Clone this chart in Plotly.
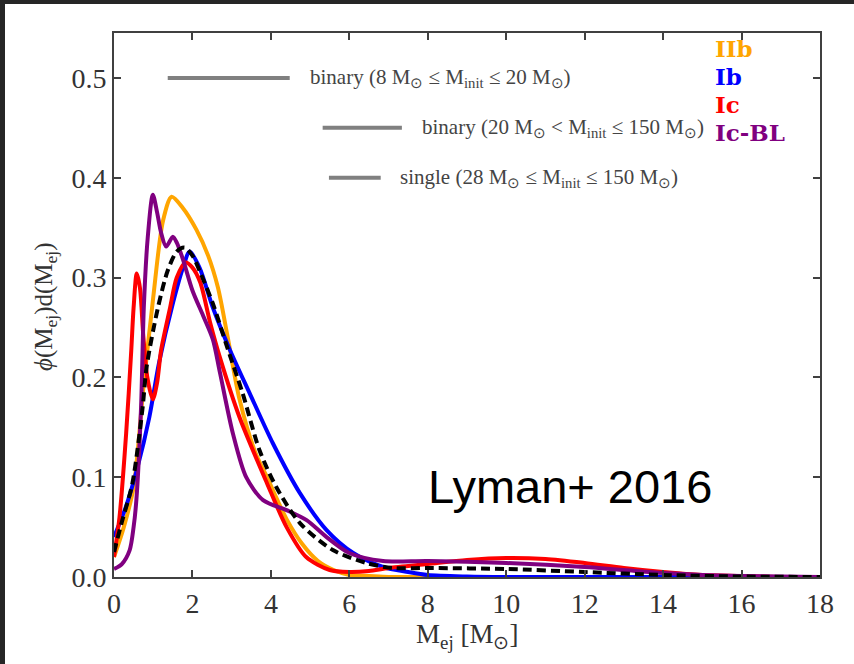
import plotly.graph_objects as go

# Ejecta-mass distributions per SN subtype
x_iib = [0, 0.25, 0.5, 0.75, 1.0, 1.25, 1.47, 1.75, 2.1, 2.4, 2.65, 2.9, 3.2, 3.6, 3.9, 4.4, 4.8, 5.2, 5.6, 6.0, 6.5, 7.0, 8, 10, 12, 14, 16, 18]
y_iib = [0.02, 0.05, 0.09, 0.19, 0.28, 0.357, 0.381, 0.370, 0.348, 0.322, 0.29, 0.24, 0.178, 0.125, 0.1, 0.058, 0.033, 0.016, 0.007, 0.002, 0.001, 0.0, 0, 0, 0, 0, 0, 0]

x_ib = [0, 0.3, 0.6, 0.9, 1.15, 1.5, 1.76, 1.93, 2.18, 2.52, 2.95, 3.46, 4.05, 4.74, 5.42, 6.1, 6.86, 7.5, 8, 9, 10, 12, 14, 16, 18]
y_ib = [0.04, 0.07, 0.11, 0.16, 0.215, 0.274, 0.31, 0.326, 0.31, 0.27, 0.228, 0.184, 0.134, 0.084, 0.047, 0.024, 0.01, 0.005, 0.002, 0.0005, 0, 0, 0, 0, 0]

x_ic = [0, 0.14, 0.31, 0.44, 0.5, 0.58, 0.66, 0.75, 0.85, 0.99, 1.1, 1.2, 1.42, 1.6, 1.82, 2.0, 2.2, 2.45, 2.7, 3.2, 3.9, 4.4, 4.9, 5.5, 6.0, 6.5, 7.0, 8.0, 9.0, 10.0, 11.0, 12.0, 13.0, 14.0, 15.0, 16.0, 17.0, 18.0]
y_ic = [0.02, 0.06, 0.144, 0.227, 0.27, 0.304, 0.29, 0.24, 0.2, 0.178, 0.195, 0.227, 0.268, 0.3, 0.315, 0.31, 0.295, 0.255, 0.22, 0.16, 0.094, 0.05, 0.02, 0.007, 0.005, 0.006, 0.009, 0.013, 0.017, 0.019, 0.018, 0.014, 0.009, 0.005, 0.002, 0.001, 0.0, 0.0]

x_icbl = [0, 0.2, 0.4, 0.5, 0.57, 0.69, 0.76, 0.86, 0.99, 1.1, 1.2, 1.33, 1.5, 1.6, 1.76, 2.0, 2.27, 2.52, 2.7, 3.03, 3.37, 3.8, 4.4, 4.91, 5.42, 6.0, 6.86, 8, 10, 12, 13, 14, 15, 16, 18]
y_icbl = [0.008, 0.013, 0.027, 0.05, 0.077, 0.17, 0.27, 0.34, 0.383, 0.365, 0.345, 0.331, 0.341, 0.335, 0.318, 0.287, 0.262, 0.238, 0.205, 0.144, 0.1, 0.077, 0.067, 0.057, 0.04, 0.024, 0.016, 0.016, 0.014, 0.01, 0.007, 0.004, 0.002, 0.001, 0.0]

x_all = [0, 0.2, 0.47, 0.73, 0.83, 1.11, 1.37, 1.6, 1.8, 2.0, 2.18, 2.52, 2.87, 3.28, 3.71, 4.14, 4.74, 5.58, 6.44, 7.1, 8, 10, 12, 14, 16, 18]
y_all = [0.025, 0.055, 0.094, 0.17, 0.21, 0.268, 0.307, 0.326, 0.33, 0.322, 0.307, 0.274, 0.232, 0.184, 0.127, 0.09, 0.054, 0.027, 0.014, 0.009, 0.009, 0.008, 0.005, 0.002, 0.0005, 0.0]

subtypes = ["IIb", "Ib", "Ic", "Ic-BL"]
subtype_colors = ["#FFA500", "#0000FF", "#FF0000", "#800080"]

model_labels = [
    "binary (8 M<sub>⊙</sub> ≤ M<sub>init</sub> ≤ 20 M<sub>⊙</sub>)",
    "binary (20 M<sub>⊙</sub> &lt; M<sub>init</sub> ≤ 150 M<sub>⊙</sub>)",
    "single (28 M<sub>⊙</sub> ≤ M<sub>init</sub> ≤ 150 M<sub>⊙</sub>)",
]

x_ticks = list(range(0, 19, 2))
y_ticks = [0.0, 0.1, 0.2, 0.3, 0.4, 0.5]

W, H = 854, 664
ML, MR, MT, MB = 114, 34, 33, 87
PW, PH = W - ML - MR, H - MT - MB


def px(x):
    return (x - ML) / PW


def py(y):
    return (H - y - MB) / PH


SERIF = "Liberation Serif, Times New Roman, serif"
AX = "#404040"

fig = go.Figure()
series = [(x_iib, y_iib), (x_ib, y_ib), (x_ic, y_ic), (x_icbl, y_icbl)]
for (xs, ys), name, col in zip(series, subtypes, subtype_colors):
    fig.add_trace(go.Scatter(x=xs, y=ys, mode="lines", name=name,
                             line=dict(color=col, width=4, shape="spline", smoothing=0.8)))
fig.add_trace(go.Scatter(x=x_all, y=y_all, mode="lines", name="all",
                         line=dict(color="black", width=4, dash="9px,5px", shape="spline", smoothing=0.8)))

axis_common = dict(showline=True, linecolor=AX, linewidth=2, mirror="ticks",
                   ticks="inside", ticklen=7, tickwidth=1.5, tickcolor=AX,
                   showgrid=False, zeroline=False,
                   tickfont=dict(family=SERIF, size=28, color="#333333"))

fig.update_xaxes(range=[0, 18], tickvals=x_ticks, ticktext=[str(v) for v in x_ticks], **axis_common)
fig.update_yaxes(range=[0, 0.545], tickvals=y_ticks, ticktext=[f"{v:.1f}" for v in y_ticks], **axis_common)

# model key: grey bars with descriptions
key_bars = [(1.37, 4.48, 0.5), (5.32, 7.34, 0.45), (5.48, 6.80, 0.4)]
key_text_x = [4.94, 7.8, 7.24]
shapes = []
annotations = []
for (x0, x1, yy), tx, lab in zip(key_bars, key_text_x, model_labels):
    shapes.append(dict(type="line", xref="x", yref="y", x0=x0, x1=x1, y0=yy, y1=yy,
                       line=dict(color="#808080", width=4)))
    annotations.append(dict(x=tx, y=yy, xref="x", yref="y", text=lab, showarrow=False,
                            xanchor="left", yanchor="middle",
                            font=dict(family=SERIF, size=21, color="#444444")))

# subtype colour key: one block, tight line spacing from the base font
key_lines = [f"<span style='color:{c};font-size:23px'><b>{n}</b></span>"
             for n, c in zip(subtypes, subtype_colors)]
annotations.append(dict(x=px(713), y=py(91), xref="paper", yref="paper", text="<br>".join(key_lines),
                        showarrow=False, xanchor="left", yanchor="middle", align="left",
                        font=dict(family="DejaVu Serif, serif", size=21.5, color="#444444")))

annotations.append(dict(x=px(426), y=py(486), xref="paper", yref="paper", text="Lyman+ 2016",
                        showarrow=False, xanchor="left", yanchor="middle",
                        font=dict(family="Liberation Sans, Arial, sans-serif", size=47, color="black")))

# axis titles
annotations.append(dict(x=px(467), y=py(636), xref="paper", yref="paper",
                        text="M<sub>ej</sub> [M<sub>⊙</sub>]", showarrow=False,
                        xanchor="center", yanchor="middle",
                        font=dict(family=SERIF, size=27, color="#333333")))
annotations.append(dict(x=px(45), y=py(307), xref="paper", yref="paper",
                        text="<i>ϕ</i>(M<sub>ej</sub>)d(M<sub>ej</sub>)", showarrow=False,
                        textangle=-90, xanchor="center", yanchor="middle",
                        font=dict(family=SERIF, size=25, color="#333333")))

# dark frame along the top and left edges
shapes.append(dict(type="rect", xref="paper", yref="paper", x0=px(0), x1=px(W), y0=py(4), y1=py(0),
                   fillcolor="#262626", line=dict(width=0), layer="above"))
shapes.append(dict(type="rect", xref="paper", yref="paper", x0=px(0), x1=px(5), y0=py(H), y1=py(0),
                   fillcolor="#262626", line=dict(width=0), layer="above"))

fig.update_layout(width=W, height=H, margin=dict(l=ML, r=MR, t=MT, b=MB),
                  plot_bgcolor="white", paper_bgcolor="white", showlegend=False,
                  shapes=shapes, annotations=annotations)

fig.write_html("out.html")
